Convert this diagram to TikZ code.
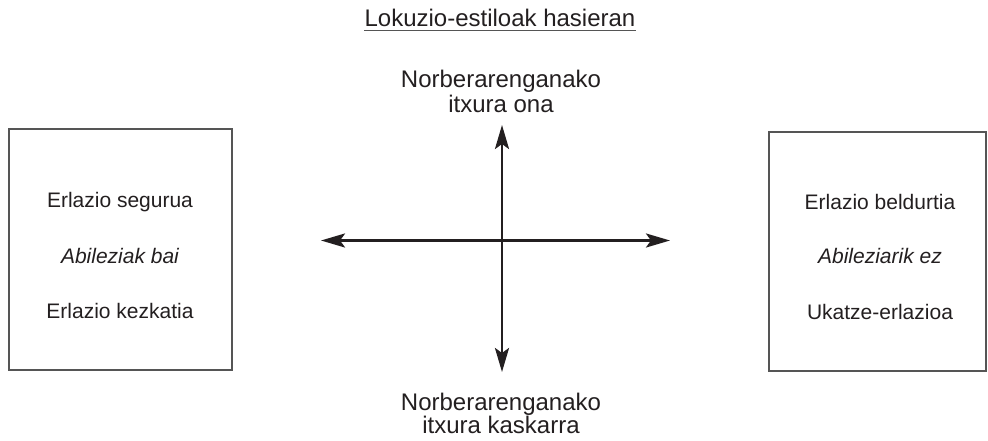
\documentclass[tikz,border=0pt]{standalone}
\usepackage{fontspec}
\setmainfont{Liberation Sans}
\usetikzlibrary{arrows.meta}
\definecolor{ink}{HTML}{231F20}
\definecolor{boxline}{HTML}{555555}
\begin{document}
\begin{tikzpicture}[x=1pt,y=-1pt,
  lbl/.style={inner sep=0pt,anchor=base,text=ink,font=\fontsize{24}{25}\selectfont},
  btxt/.style={inner sep=0pt,anchor=base,text=ink,font=\fontsize{21}{24}\selectfont},
  frame/.style={draw=boxline,line width=1.4pt},
  axis/.style={draw=ink,line width=2.8pt,{Stealth[length=24pt,width=14pt,inset=5pt]}-{Stealth[length=24pt,width=14pt,inset=5pt]}}]
\useasboundingbox (0,0) rectangle (988,441);
% title
\node[lbl] (title) at (500,27) {Lokuzio-estiloak hasieran};
\draw[boxline,line width=1.3pt] ([yshift=-3.5pt]title.base west) -- ([yshift=-3.5pt]title.base east);
% axis labels
\node[lbl] (top1) at (501,88) {Norberarenganako};
\node[lbl] (top2) at (501,113) {itxura ona};
\node[lbl] (bot1) at (501,410) {Norberarenganako};
\node[lbl] (bot2) at (501,433) {itxura kaskarra};
% axes
\coordinate (L) at (321,240.5);
\coordinate (R) at (670,240.5);
\coordinate (T) at (502,125);
\coordinate (B) at (502,372);
\draw[axis] (L) -- (R);
\draw[axis] (T) -- (B);
% left box
\node[frame,minimum width=223pt,minimum height=241pt,inner sep=0pt] (lbox) at (120.5,249.5) {};
\node[btxt] (l1) at (120,207) {Erlazio segurua};
\node[btxt,font=\fontsize{21}{24}\selectfont\itshape] (l2) at (120,263) {Abileziak bai};
\node[btxt] (l3) at (120,318) {Erlazio kezkatia};
% right box
\node[frame,minimum width=217pt,minimum height=239pt,inner sep=0pt] (rbox) at (877.5,251.5) {};
\node[btxt] (r1) at (880,209) {Erlazio beldurtia};
\node[btxt,font=\fontsize{21}{24}\selectfont\itshape] (r2) at (880,263) {Abileziarik ez};
\node[btxt] (r3) at (880,319) {Ukatze-erlazioa};
\end{tikzpicture}
\end{document}
